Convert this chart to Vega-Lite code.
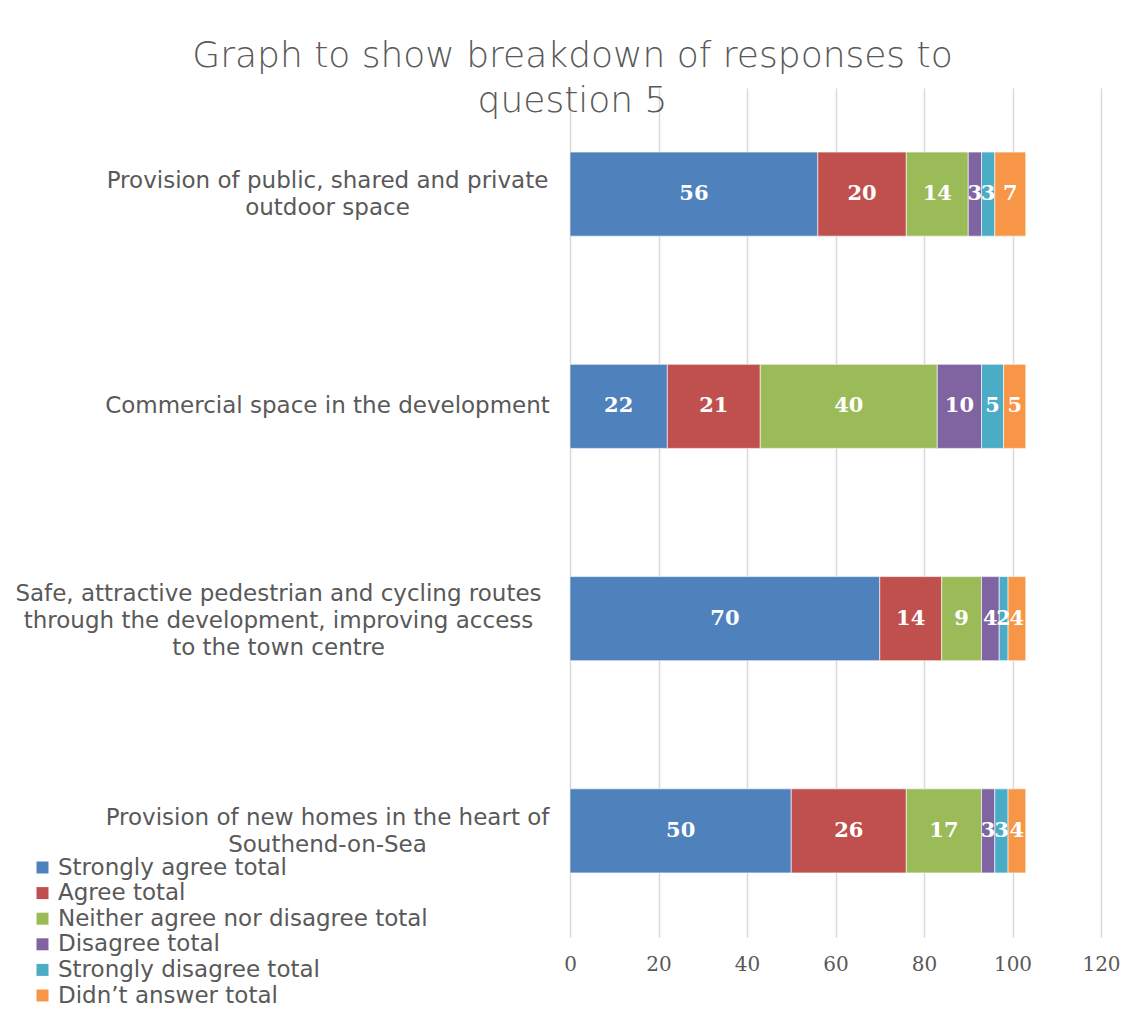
{
  "$schema": "https://vega.github.io/schema/vega-lite/v6.json",
  "width": 531,
  "height": 849,
  "autosize": {"type": "none"},
  "padding": {"left": 570, "top": 88, "right": 26, "bottom": 73},
  "background": "#ffffff",
  "config": {"view": {"stroke": null}},
  "title": {
    "text": ["Graph to show breakdown of responses to", "question 5"],
    "font": "DejaVu Sans",
    "fontSize": 36,
    "fontWeight": 200,
    "color": "#595959",
    "lineHeight": 45,
    "anchor": "middle",
    "dx": -263,
    "baseline": "alphabetic",
    "offset": -60
  },
  "data": {
    "values": [
      {"q": "Provision of public, shared and private|outdoor space", "r": "Strongly agree total", "n": 56, "k": 1},
      {"q": "Provision of public, shared and private|outdoor space", "r": "Agree total", "n": 20, "k": 2},
      {"q": "Provision of public, shared and private|outdoor space", "r": "Neither agree nor disagree total", "n": 14, "k": 3},
      {"q": "Provision of public, shared and private|outdoor space", "r": "Disagree total", "n": 3, "k": 4},
      {"q": "Provision of public, shared and private|outdoor space", "r": "Strongly disagree total", "n": 3, "k": 5},
      {"q": "Provision of public, shared and private|outdoor space", "r": "Didn’t answer total", "n": 7, "k": 6},
      {"q": "Commercial space in the development", "r": "Strongly agree total", "n": 22, "k": 1},
      {"q": "Commercial space in the development", "r": "Agree total", "n": 21, "k": 2},
      {"q": "Commercial space in the development", "r": "Neither agree nor disagree total", "n": 40, "k": 3},
      {"q": "Commercial space in the development", "r": "Disagree total", "n": 10, "k": 4},
      {"q": "Commercial space in the development", "r": "Strongly disagree total", "n": 5, "k": 5},
      {"q": "Commercial space in the development", "r": "Didn’t answer total", "n": 5, "k": 6},
      {"q": "Safe, attractive pedestrian and cycling routes|through the development, improving access|to the town centre", "r": "Strongly agree total", "n": 70, "k": 1},
      {"q": "Safe, attractive pedestrian and cycling routes|through the development, improving access|to the town centre", "r": "Agree total", "n": 14, "k": 2},
      {"q": "Safe, attractive pedestrian and cycling routes|through the development, improving access|to the town centre", "r": "Neither agree nor disagree total", "n": 9, "k": 3},
      {"q": "Safe, attractive pedestrian and cycling routes|through the development, improving access|to the town centre", "r": "Disagree total", "n": 4, "k": 4},
      {"q": "Safe, attractive pedestrian and cycling routes|through the development, improving access|to the town centre", "r": "Strongly disagree total", "n": 2, "k": 5},
      {"q": "Safe, attractive pedestrian and cycling routes|through the development, improving access|to the town centre", "r": "Didn’t answer total", "n": 4, "k": 6},
      {"q": "Provision of new homes in the heart of|Southend-on-Sea", "r": "Strongly agree total", "n": 50, "k": 1},
      {"q": "Provision of new homes in the heart of|Southend-on-Sea", "r": "Agree total", "n": 26, "k": 2},
      {"q": "Provision of new homes in the heart of|Southend-on-Sea", "r": "Neither agree nor disagree total", "n": 17, "k": 3},
      {"q": "Provision of new homes in the heart of|Southend-on-Sea", "r": "Disagree total", "n": 3, "k": 4},
      {"q": "Provision of new homes in the heart of|Southend-on-Sea", "r": "Strongly disagree total", "n": 3, "k": 5},
      {"q": "Provision of new homes in the heart of|Southend-on-Sea", "r": "Didn’t answer total", "n": 4, "k": 6}
    ]
  },
  "encoding": {
    "y": {
      "field": "q",
      "type": "nominal",
      "sort": [
        "Provision of public, shared and private|outdoor space",
        "Commercial space in the development",
        "Safe, attractive pedestrian and cycling routes|through the development, improving access|to the town centre",
        "Provision of new homes in the heart of|Southend-on-Sea"
      ],
      "scale": {"paddingInner": 0.604, "paddingOuter": 0.302},
      "axis": {
        "title": null,
        "domain": false,
        "ticks": false,
        "labelExpr": "split(datum.value, '|')",
        "labelAlign": "center",
        "labelPadding": {"condition": {"test": "indexof(datum.value, 'Safe') == 0", "value": 292}, "value": 243},
        "labelOffset": {"condition": [{"test": "indexof(datum.value, 'Safe') == 0", "value": -25}, {"test": "indexof(datum.value, '|') >= 0", "value": -13}], "value": 0},
        "labelFont": "DejaVu Sans",
        "labelFontSize": 23,
        "labelColor": "#595959",
        "labelLineHeight": 27,
        "labelLimit": 600
      }
    },
    "x": {
      "field": "n",
      "type": "quantitative",
      "stack": "zero",
      "scale": {"domain": [0, 120], "nice": false},
      "axis": {
        "title": null,
        "values": [0, 20, 40, 60, 80, 100, 120],
        "domain": false,
        "ticks": false,
        "grid": true,
        "gridColor": "#D9D9D9",
        "gridWidth": 1.5,
        "labelFlush": false,
        "labelFont": "DejaVu Serif",
        "labelFontSize": 20,
        "labelColor": "#595959",
        "labelPadding": 17
      }
    },
    "order": {"field": "k", "type": "quantitative"}
  },
  "layer": [
    {
      "mark": {"type": "bar", "stroke": "#ffffff", "strokeWidth": 0.6},
      "encoding": {
        "color": {
          "field": "r",
          "type": "nominal",
          "sort": ["Strongly agree total", "Agree total", "Neither agree nor disagree total", "Disagree total", "Strongly disagree total", "Didn’t answer total"],
          "scale": {
            "domain": ["Strongly agree total", "Agree total", "Neither agree nor disagree total", "Disagree total", "Strongly disagree total", "Didn’t answer total"],
            "range": ["#4F81BD", "#C0504D", "#9BBB59", "#8064A2", "#4BACC6", "#F79646"]
          },
          "legend": {
            "title": null,
            "orient": "none",
            "legendX": -539,
            "legendY": 768,
            "symbolType": "square",
            "symbolSize": 144,
            "symbolStrokeWidth": 0,
            "labelFont": "DejaVu Sans",
            "labelFontSize": 23,
            "labelColor": "#595959",
            "labelLimit": 500,
            "rowPadding": 1.6,
            "labelOffset": 4
          }
        }
      }
    },
    {
      "mark": {"type": "text", "color": "#ffffff", "font": "DejaVu Serif", "fontSize": 21, "fontWeight": "bold", "baseline": "middle", "align": "center"},
      "encoding": {
        "x": {"field": "n", "type": "quantitative", "stack": "zero", "bandPosition": 0.5},
        "text": {"field": "n", "type": "quantitative"}
      }
    }
  ]
}
